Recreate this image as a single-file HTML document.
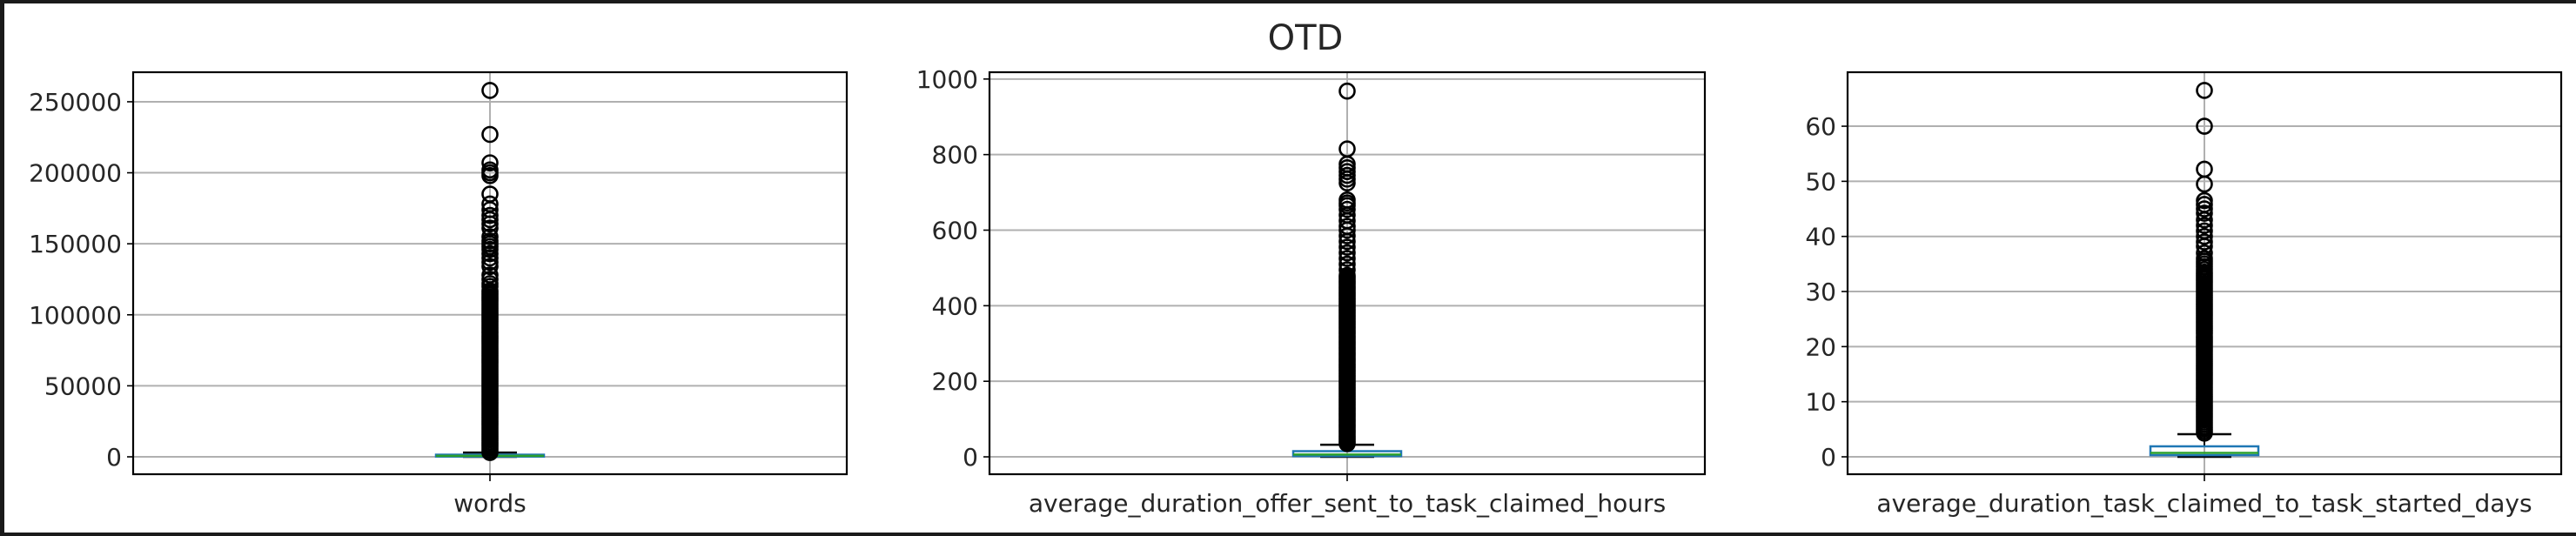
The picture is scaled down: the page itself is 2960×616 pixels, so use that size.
<!DOCTYPE html>
<html><head><meta charset="utf-8">
<style>
html,body{margin:0;padding:0;background:#fff;}
#wrap{position:relative;width:2960px;height:616px;overflow:hidden;background:#fff;}
svg text{font-family:"DejaVu Sans","Liberation Sans",sans-serif;fill:#262626;}
</style></head>
<body>
<div id="wrap">
<svg id="chart" width="2960" height="616" xmlns="http://www.w3.org/2000/svg">
<rect x="0" y="0" width="2960" height="4" fill="#1a1a1a"/>
<rect x="0" y="612" width="2960" height="4" fill="#1a1a1a"/>
<rect x="0" y="0" width="5" height="616" fill="#1a1a1a"/>
<text x="1500" y="57" font-size="40" text-anchor="middle">OTD</text>
</svg>
</div>
<script>
// ---- data ----
const panelNames = ["words","average_duration_offer_sent_to_task_claimed_hours","average_duration_task_claimed_to_task_started_days"];
const ticks1 = [0,50000,100000,150000,200000,250000];
const ticks2 = [0,200,400,600,800,1000];
const ticks3 = [0,10,20,30,40,50,60];
// box stats: [whiskerLow, q1, median, q3, whiskerHigh]
const stats1 = [0,200,700,1500,3000];
const stats2 = [0,2,6,15,32];
const stats3 = [0,0.3,0.7,1.9,4.1];
const outliers1 = [3000,4500,6000,7500,9000,10500,12000,13500,15000,16500,18000,19500,21000,22500,24000,25500,27000,28500,30000,31500,33000,34500,36000,37500,39000,40500,42000,43500,45000,46500,48000,49500,51000,52500,54000,55500,57000,58500,60000,61500,63000,64500,66000,67500,69000,70500,72000,73500,75000,76500,78000,79500,81000,82500,84000,85500,87000,88500,90000,91500,93000,94500,96000,97500,99000,100500,102000,103500,105000,106500,108000,109500,111000,112500,114000,115500,117000,120000,122000,125000,128000,134000,137000,140000,143000,146000,148000,150000,152000,155000,161000,164000,167000,170000,174000,178000,185000,198000,200000,202000,207000,227000,258000];
const outliers2 = [35,40,45,50,55,60,65,70,75,80,85,90,95,100,105,110,115,120,125,130,135,140,145,150,155,160,165,170,175,180,185,190,195,200,205,210,215,220,225,230,235,240,245,250,255,260,265,270,275,280,285,290,295,300,305,310,315,320,325,330,335,340,345,350,355,360,365,370,375,380,385,390,395,400,405,410,415,420,425,430,435,440,445,450,455,460,465,470,475,480,495,510,525,540,555,570,585,600,610,625,640,655,665,672,680,725,735,745,755,765,775,815,968];
const outliers3 = [4.3,4.7,5.1,5.5,5.9,6.3,6.7,7.1,7.5,7.9,8.3,8.7,9.1,9.5,9.9,10.3,10.7,11.1,11.5,11.9,12.3,12.7,13.1,13.5,13.9,14.3,14.7,15.1,15.5,15.9,16.3,16.7,17.1,17.5,17.9,18.3,18.7,19.1,19.5,19.9,20.3,20.7,21.1,21.5,21.9,22.3,22.7,23.1,23.5,23.9,24.3,24.7,25.1,25.5,25.9,26.3,26.7,27.1,27.5,27.9,28.3,28.7,29.1,29.5,29.9,30.3,30.7,31.1,31.5,31.9,32.3,32.7,33.1,33.5,34,34.5,35,35.5,36,37,38.2,39,40,41,42,43,44.2,45,45.8,46.5,49.5,52.2,60,66.5];
const yMin = [-12250,-46,-3.16];
const yMax = [270800,1018,69.8];

// ---- layout ----
const axesX = [[153,973],[1137,1959],[2123,2943]];
const axTop = 83, axBot = 545;
const svg = document.getElementById('chart');
const NS = 'http://www.w3.org/2000/svg';
function mk(tag, attrs){const e=document.createElementNS(NS,tag);for(const k in attrs)e.setAttribute(k,attrs[k]);return e;}

const allTicks=[ticks1,ticks2,ticks3], allStats=[stats1,stats2,stats3], allOut=[outliers1,outliers2,outliers3];

for(let p=0;p<3;p++){
  const [x0,x1]=axesX[p];
  const y=v=>axBot-(v-yMin[p])/(yMax[p]-yMin[p])*(axBot-axTop);
  const cx=(x0+x1)/2;
  const g=mk('g',{});
  
  
  svg.appendChild(g);
  allTicks[p].forEach(t=>{
    const yy=y(t);
    const gl=mk('line',{x1:x0,x2:x1,y1:yy,y2:yy,stroke:'#b0b0b0','stroke-width':2});
    
    
    g.appendChild(gl);
    const tk=mk('line',{x1:x0-7,x2:x0,y1:yy,y2:yy,stroke:'#000','stroke-width':1.6});
    
    
    g.appendChild(tk);
    const tl=mk('text',{x:x0-13,y:yy+10,'font-size':28,'text-anchor':'end'});
    tl.textContent=t;
    
    
    g.appendChild(tl);
  });
  const vg=mk('line',{x1:cx,x2:cx,y1:axTop,y2:axBot,stroke:'#b0b0b0','stroke-width':2});
  
  
  g.appendChild(vg);
  const s=allStats[p];
  const bw=124, cw=62;
  const wl=mk('line',{x1:cx,x2:cx,y1:y(s[0]),y2:y(s[1]),stroke:'#000','stroke-width':2});
  
  
  g.appendChild(wl);
  const wh=mk('line',{x1:cx,x2:cx,y1:y(s[3]),y2:y(s[4]),stroke:'#000','stroke-width':2});
  
  
  g.appendChild(wh);
  [s[0],s[4]].forEach((v,i)=>{
    const c=mk('line',{x1:cx-cw/2,x2:cx+cw/2,y1:y(v),y2:y(v),stroke:'#000','stroke-width':2.5});
    
    
    g.appendChild(c);
  });
  const bx=mk('rect',{x:cx-bw/2,y:y(s[3]),width:bw,height:Math.max(1,y(s[1])-y(s[3])),fill:'none',stroke:'#1f77b4','stroke-width':2.5});
  
  
  g.appendChild(bx);
  const md=mk('line',{x1:cx-bw/2,x2:cx+bw/2,y1:y(s[2]),y2:y(s[2]),stroke:'#2ca02c','stroke-width':2.5});
  
  
  g.appendChild(md);
  allOut[p].forEach(v=>{
    const c=mk('circle',{cx:cx,cy:y(v),r:8.5,fill:'none',stroke:'#000','stroke-width':2.6});
    
    
    g.appendChild(c);
  });
  const sp=mk('rect',{x:x0,y:axTop,width:x1-x0,height:axBot-axTop,fill:'none',stroke:'#000','stroke-width':2.2});
  
  
  g.appendChild(sp);
  const xt=mk('line',{x1:cx,x2:cx,y1:axBot,y2:axBot+8,stroke:'#000','stroke-width':1.6});
  
  
  g.appendChild(xt);
  const xl=mk('text',{x:cx,y:588,'font-size':28,'text-anchor':'middle'});
  xl.textContent=panelNames[p];
  
  
  g.appendChild(xl);
}
</script>
</body></html>
